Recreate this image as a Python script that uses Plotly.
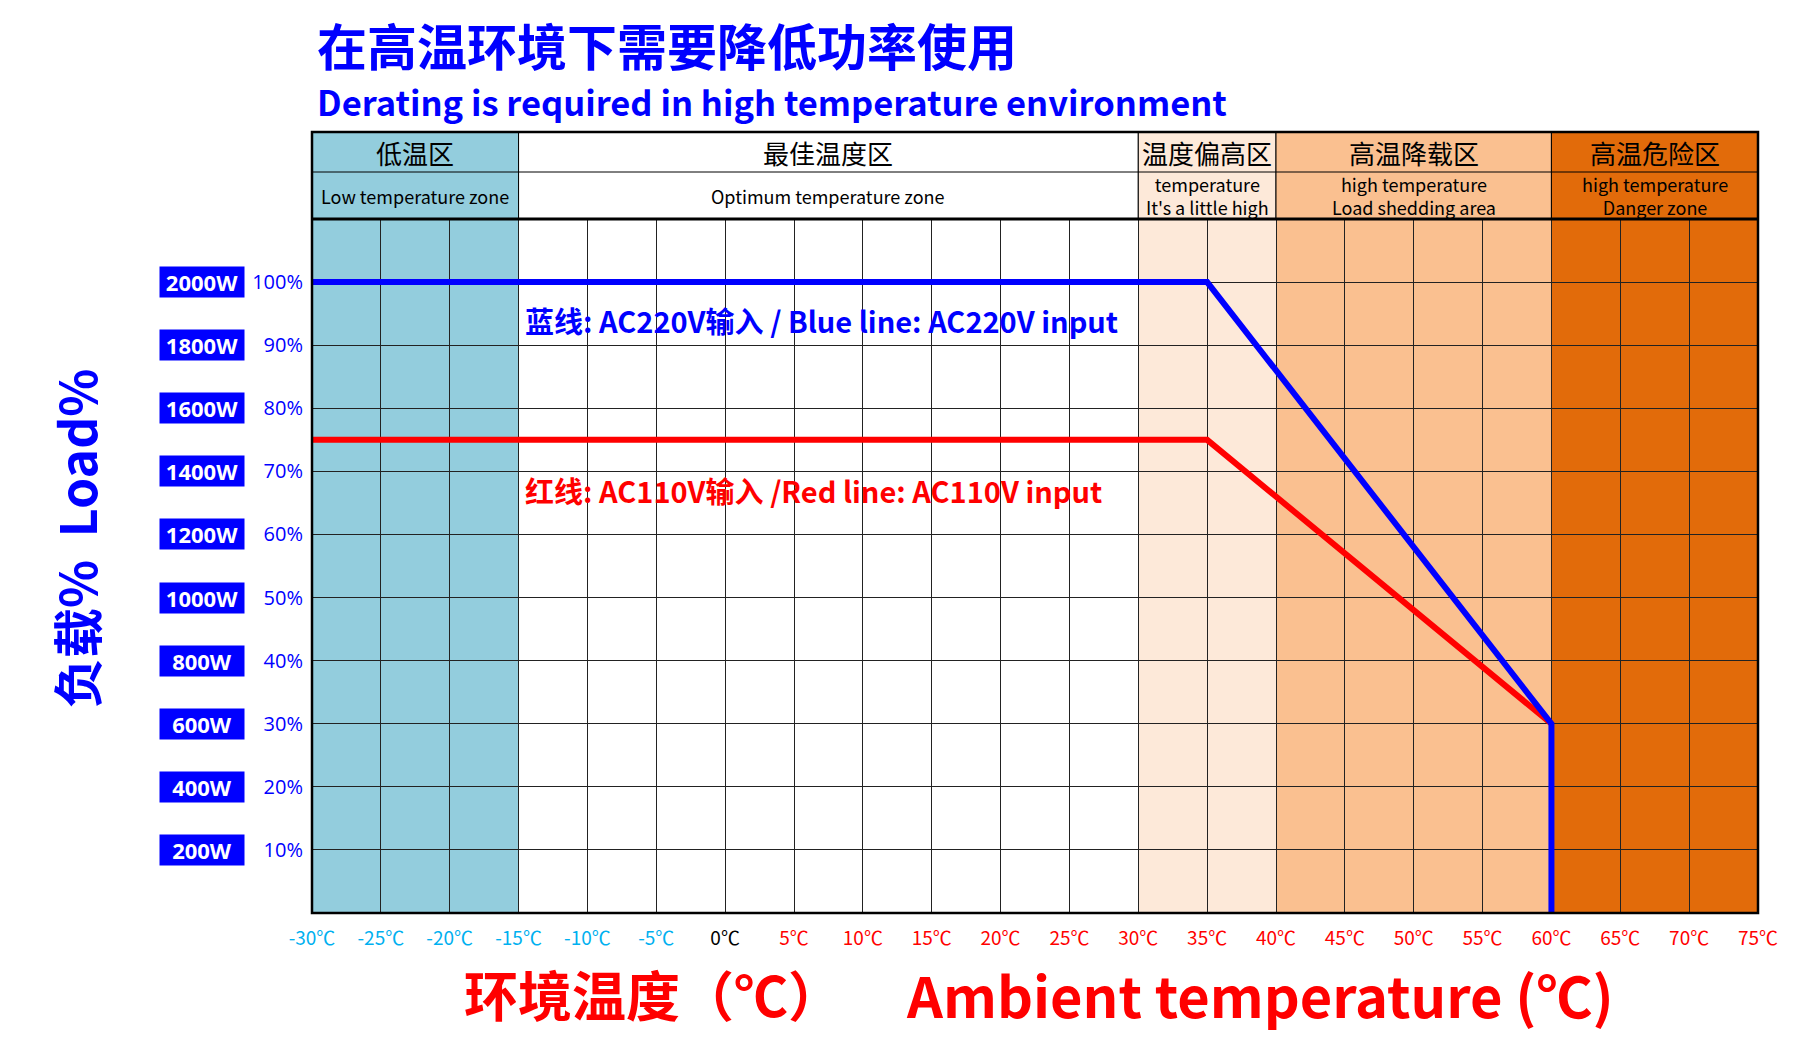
import plotly.graph_objects as go

# ---------------- data ----------------
temp_ticks = [-30, -25, -20, -15, -10, -5, 0, 5, 10, 15, 20, 25, 30, 35, 40, 45, 50, 55, 60, 65, 70, 75]
pct_ticks = [10, 20, 30, 40, 50, 60, 70, 80, 90, 100]
watt_labels = ["200W", "400W", "600W", "800W", "1000W", "1200W", "1400W", "1600W", "1800W", "2000W"]

blue_temp = [-30, 35, 60, 60]
blue_load = [100, 100, 30, 0]
red_temp = [-30, 35, 60]
red_load = [75, 75, 30]

zone_start = [-30, -15, 30, 40, 60]
zone_end = [-15, 30, 40, 60, 75]
zone_cn = ["低温区", "最佳温度区", "温度偏高区", "高温降载区", "高温危险区"]
zone_en = ["Low temperature zone", "Optimum temperature zone",
           "temperature<br>It's a little high", "high temperature<br>Load shedding area",
           "high temperature<br>Danger zone"]
zone_colors = ["#93CDDD", "#FFFFFF", "#FDE9D9", "#FAC090", "#E26B0A"]

title_cn = "在高温环境下需要降低功率使用"
title_en = "Derating is required in high temperature environment"
blue_note = "蓝线: AC220V输入 / Blue line: AC220V input"
red_note = "红线: AC110V输入 /Red line: AC110V input"
x_title_cn = "环境温度（℃）"
x_title_en = "Ambient temperature (℃)"
y_title = "负载%&nbsp;&nbsp;Load%"

# ---------------- layout (page pixels; body has an 8px margin) ----------------
OFF = 8
PAGE_W, PAGE_H = 1811, 1044
W, H = PAGE_W - 2 * OFF, PAGE_H - 2 * OFF
PLOT_LEFT, PLOT_RIGHT, PLOT_TOP, PLOT_BOTTOM = 312, 1758, 132, 913
L = PLOT_LEFT - OFF
R = W - (PLOT_RIGHT - OFF)
T = PLOT_TOP - OFF
B = H - (PLOT_BOTTOM - OFF)
plot_w = W - L - R
plot_h = H - T - B


def px_x(x):
    return (x - PLOT_LEFT) / plot_w


def px_y(y):
    return (PLOT_BOTTOM - y) / plot_h


ydom_top = px_y(219)
y_mid = px_y(172)

CJK = "Noto Sans CJK SC"
BLUE = "#0000FF"
RED = "#FF0000"

fig = go.Figure()

fig.add_trace(go.Scatter(x=red_temp, y=red_load, mode="lines",
                         line=dict(color=RED, width=6), hoverinfo="skip", showlegend=False))
fig.add_trace(go.Scatter(x=blue_temp, y=blue_load, mode="lines",
                         line=dict(color=BLUE, width=6), hoverinfo="skip", showlegend=False))

shapes = []
annotations = []
for x0, x1, c, cn, en in zip(zone_start, zone_end, zone_colors, zone_cn, zone_en):
    shapes.append(dict(type="rect", xref="x", yref="paper", x0=x0, x1=x1, y0=0, y1=ydom_top,
                       fillcolor=c, line=dict(width=0), layer="below"))
    shapes.append(dict(type="rect", xref="x", yref="paper", x0=x0, x1=x1, y0=ydom_top, y1=1,
                       fillcolor=c, line=dict(color="#000000", width=1), layer="above"))
    annotations.append(dict(x=(x0 + x1) / 2, y=(1 + y_mid) / 2, xref="x", yref="paper",
                            xanchor="center", yanchor="middle",
                            text=cn, showarrow=False, font=dict(family=CJK, size=26, color="#000000")))
    annotations.append(dict(x=(x0 + x1) / 2, y=(y_mid + ydom_top) / 2, xref="x", yref="paper",
                            xanchor="center", yanchor="middle",
                            text=en, showarrow=False,
                            font=dict(family=CJK, size=18, color="#000000")))

shapes.append(dict(type="line", xref="paper", yref="paper", x0=0, x1=1, y0=y_mid, y1=y_mid,
                   line=dict(color="#000000", width=1)))
shapes.append(dict(type="line", xref="paper", yref="paper", x0=0, x1=1, y0=ydom_top, y1=ydom_top,
                   line=dict(color="#000000", width=3)))
shapes.append(dict(type="rect", xref="paper", yref="paper", x0=0, x1=1, y0=0, y1=1,
                   line=dict(color="#000000", width=2.5)))

# watt boxes
for p, w in zip(pct_ticks, watt_labels):
    annotations.append(dict(x=px_x(202), y=p, xref="paper", yref="y", text="<b>%s</b>" % w,
                            showarrow=False, xanchor="center", yanchor="middle",
                            bgcolor=BLUE, width=82, height=28,
                            font=dict(family="Open Sans", size=22, color="#FFFFFF")))

# notes
annotations.append(dict(x=-14.7, y=94, xref="x", yref="y", text="<b>%s</b>" % blue_note,
                        showarrow=False, xanchor="left", yanchor="middle",
                        font=dict(family=CJK, size=29, color=BLUE)))
annotations.append(dict(x=-14.7, y=67, xref="x", yref="y", text="<b>%s</b>" % red_note,
                        showarrow=False, xanchor="left", yanchor="middle",
                        font=dict(family=CJK, size=29, color=RED)))

# titles
annotations.append(dict(x=px_x(315), y=px_y(44), xref="paper", yref="paper", text="<b>%s</b>" % title_cn,
                        showarrow=False, xanchor="left", yanchor="middle",
                        font=dict(family=CJK, size=50, color=BLUE)))
annotations.append(dict(x=px_x(315), y=px_y(101), xref="paper", yref="paper", text="<b>%s</b>" % title_en,
                        showarrow=False, xanchor="left", yanchor="middle",
                        font=dict(family=CJK, size=34.5, color=BLUE)))

# axis titles
annotations.append(dict(x=px_x(843), y=px_y(993), xref="paper", yref="paper",
                        text="<b>%s</b>" % x_title_cn, showarrow=False, xanchor="right", yanchor="middle",
                        borderpad=0, font=dict(family=CJK, size=54, color=RED)))
annotations.append(dict(x=px_x(905), y=px_y(993), xref="paper", yref="paper",
                        text="<b>%s</b>" % x_title_en, showarrow=False, xanchor="left", yanchor="middle",
                        borderpad=0, font=dict(family=CJK, size=56, color=RED)))
annotations.append(dict(x=px_x(75), y=px_y(538), xref="paper", yref="paper",
                        text="<b>%s</b>" % y_title, showarrow=False, textangle=-90,
                        xanchor="center", yanchor="middle",
                        font=dict(family=CJK, size=50, color=BLUE)))


def tick_color(t):
    if t < 0:
        return "#00B0F0"
    if t == 0:
        return "#000000"
    return RED


x_ticktext = ["<span style='color:%s'>%d℃</span>" % (tick_color(t), t) for t in temp_ticks]

fig.update_layout(
    width=W, height=H, autosize=False,
    margin=dict(l=L, r=R, t=T, b=B),
    paper_bgcolor="#FFFFFF", plot_bgcolor="#FFFFFF",
    shapes=shapes, annotations=annotations,
    xaxis=dict(range=[-30, 75], tickvals=temp_ticks, ticktext=x_ticktext,
               showgrid=True, gridcolor="#222222", gridwidth=1, zeroline=False,
               ticks="outside", ticklen=8, tickcolor="rgba(0,0,0,0)",
               tickfont=dict(family=CJK, size=19), showline=False),
    yaxis=dict(range=[0, 110], domain=[0, ydom_top], tickvals=pct_ticks,
               ticktext=["%d%%" % p for p in pct_ticks],
               showgrid=True, gridcolor="#222222", gridwidth=1, zeroline=False,
               tickfont=dict(family="Open Sans", size=20, color=BLUE), showline=False,
               ticks="outside", ticklen=4, tickcolor="rgba(0,0,0,0)"),
    showlegend=False,
)

fig.write_html("out.html")
